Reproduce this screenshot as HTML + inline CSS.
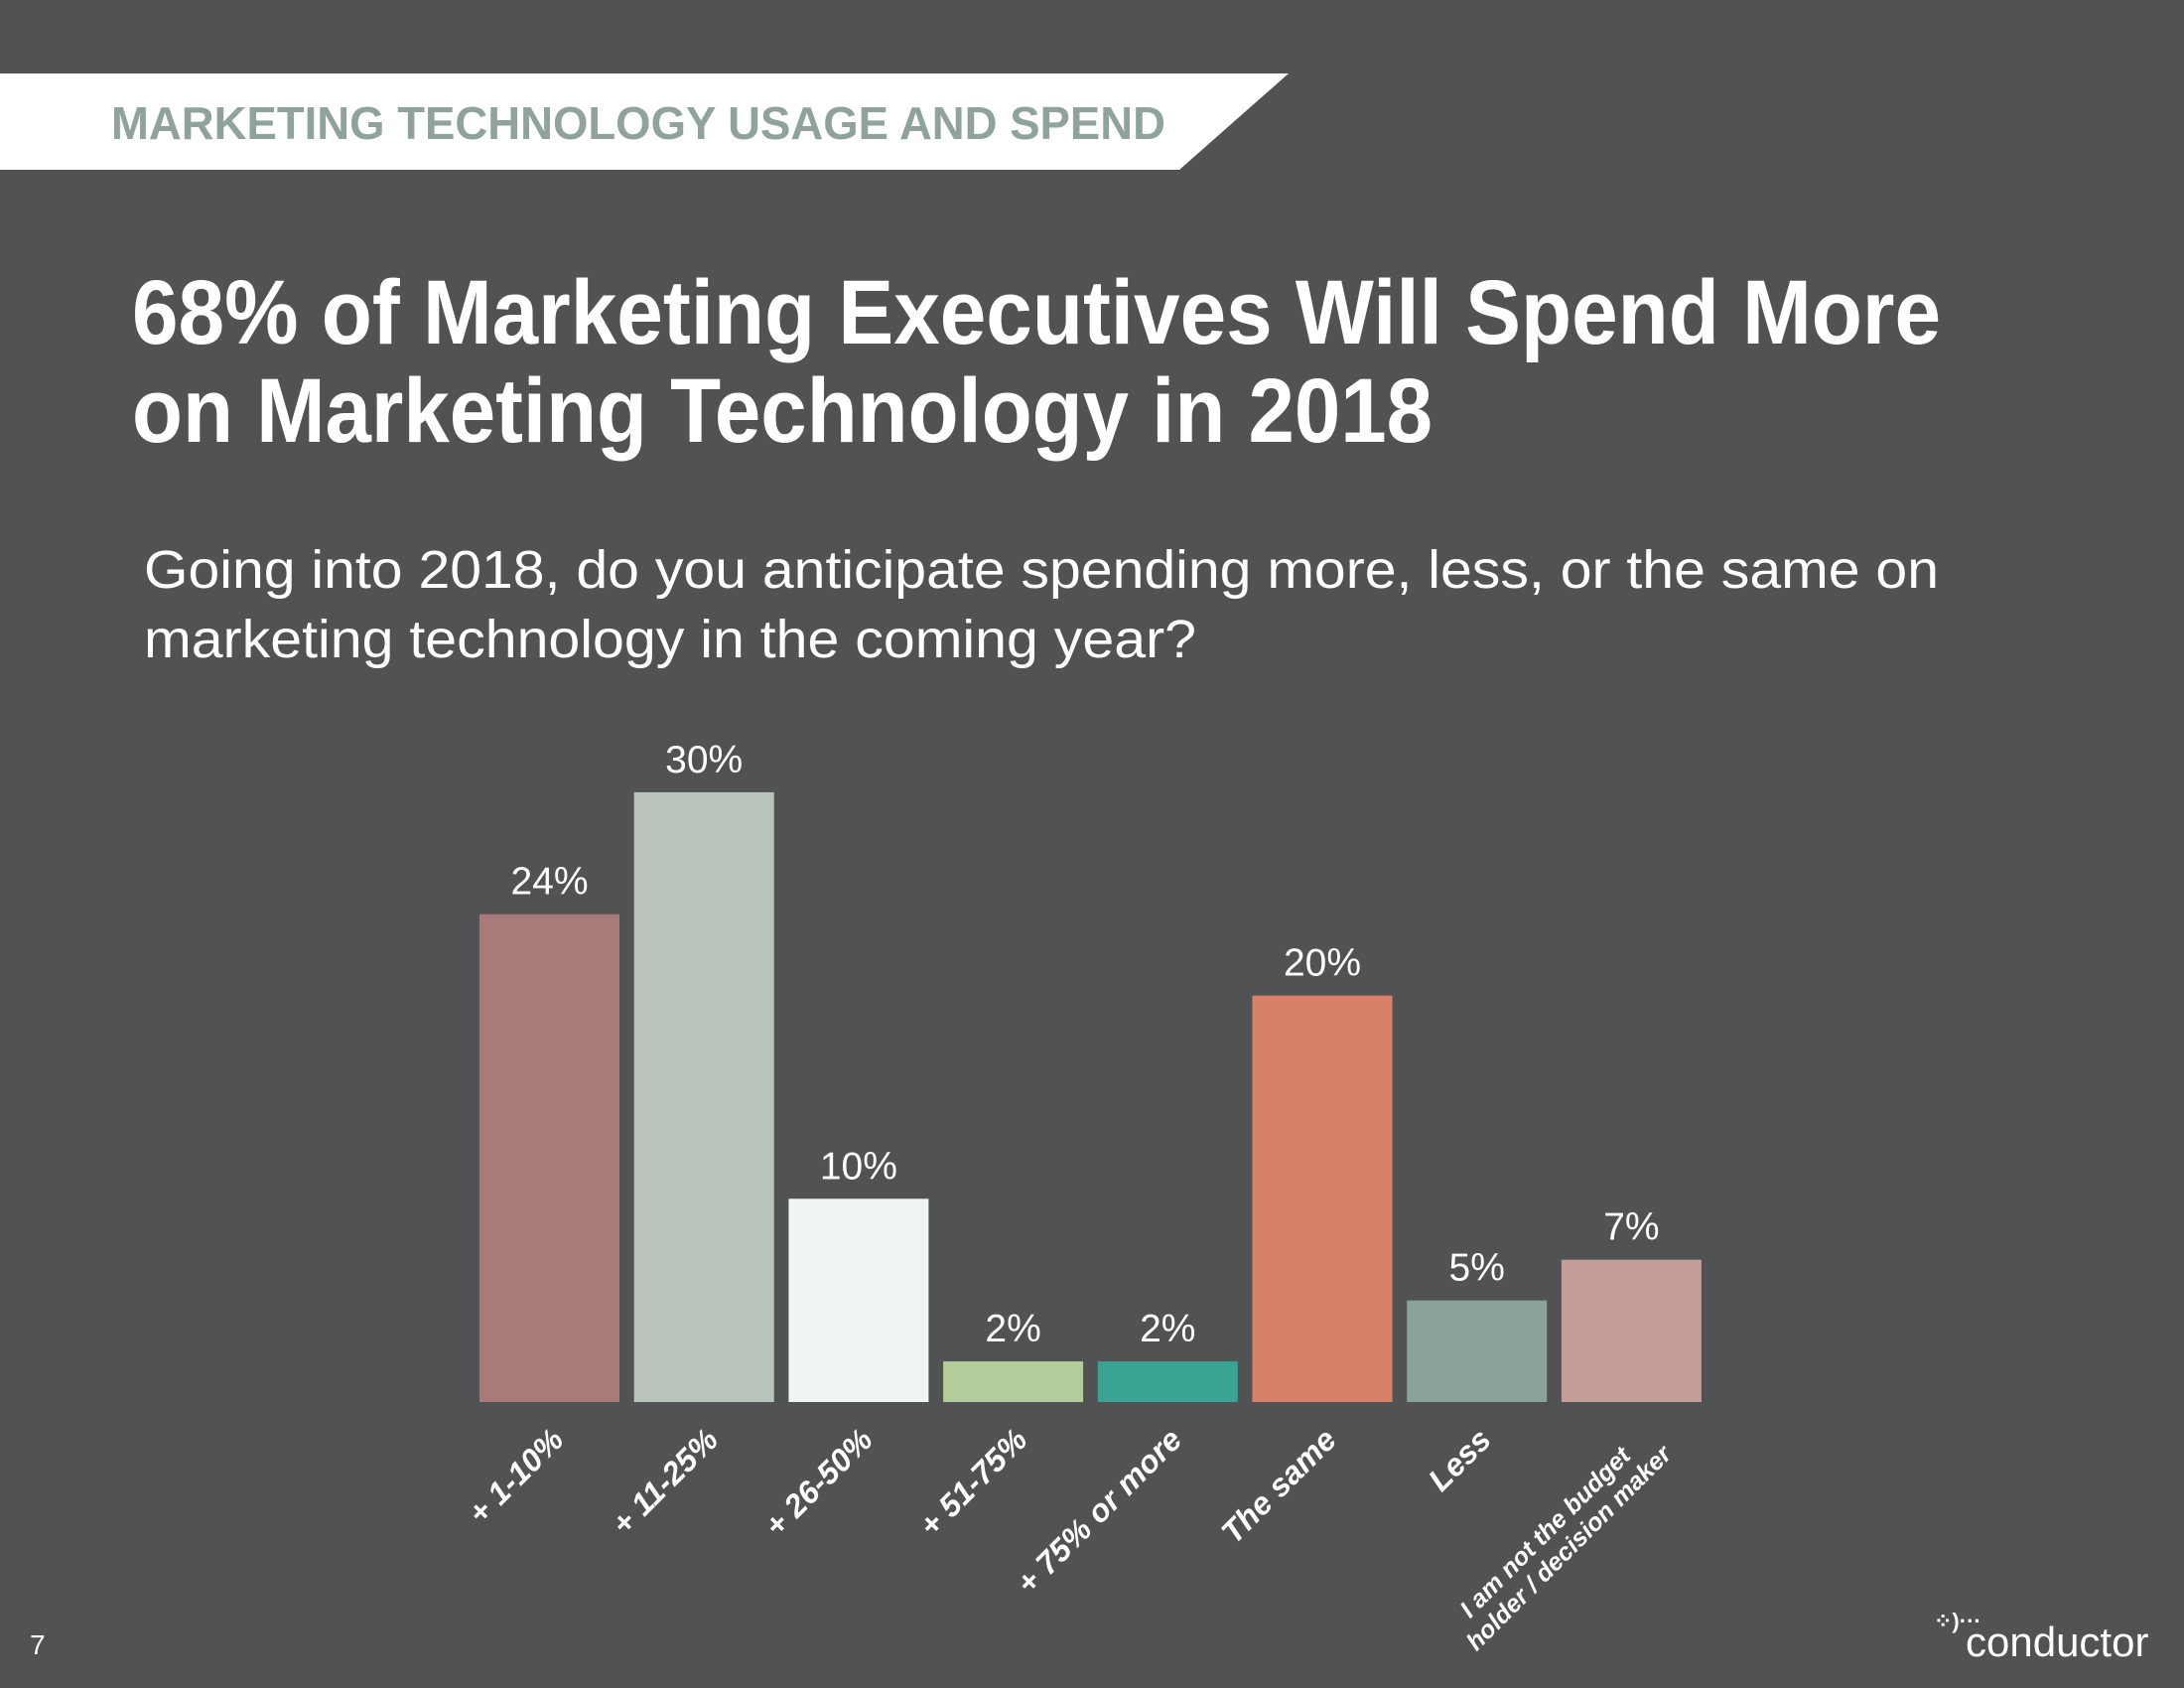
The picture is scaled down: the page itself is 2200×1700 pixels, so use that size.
<!DOCTYPE html>
<html><head><meta charset="utf-8"><style>
html,body{margin:0;padding:0;background:#515254;}
svg{display:block;font-family:"Liberation Sans",sans-serif;}
</style></head><body>
<svg width="2200" height="1700" viewBox="0 0 2200 1700">
<rect x="0" y="0" width="2200" height="1700" fill="#515254"/>
<polygon points="0,74 1298,74 1188,171 0,171" fill="#ffffff"/>
<text x="112" y="140" font-size="46" font-weight="bold" fill="#8fa39b" textLength="1062" lengthAdjust="spacingAndGlyphs">MARKETING TECHNOLOGY USAGE AND SPEND</text>
<text x="133" y="346" font-size="92" font-weight="bold" fill="#ffffff" textLength="1822" lengthAdjust="spacingAndGlyphs">68% of Marketing Executives Will Spend More</text>
<text x="133" y="445" font-size="92" font-weight="bold" fill="#ffffff" textLength="1310" lengthAdjust="spacingAndGlyphs">on Marketing Technology in 2018</text>
<text x="145" y="592" font-size="54" fill="#ffffff" textLength="1808" lengthAdjust="spacingAndGlyphs">Going into 2018, do you anticipate spending more, less, or the same on</text>
<text x="145" y="662" font-size="54" fill="#ffffff" textLength="1060" lengthAdjust="spacingAndGlyphs">marketing technology in the coming year?</text>
<g id="chart"></g>
<text x="30" y="1666" font-size="28" fill="#ffffff">7</text>
<g>
<text x="1948" y="1640" font-size="22" font-weight="bold" fill="#ffffff">⁘)···</text>
<text x="1980" y="1668" font-size="42" fill="#ffffff">conductor</text>
</g>
</svg>
<script>
const categories = ["+ 1-10%", "+ 11-25%", "+ 26-50%", "+ 51-75%", "+ 75% or more", "The same", "Less", "I am not the budget|holder / decision maker"];
const values = [24, 30, 10, 2, 2, 20, 5, 7];
const valueLabels = ["24%", "30%", "10%", "2%", "2%", "20%", "5%", "7%"];
const colors = ["#a87a7a", "#b9c4bc", "#eff6f1", "#b3cc99", "#3aa394", "#d98068", "#8ba19b", "#c59e99"];
const NS = "http://www.w3.org/2000/svg";
const g = document.getElementById("chart");
const baseY = 1412, pxPer = 20.47, x0 = 483, pitch = 155.7, bw = 141;
function xPos(i){ return x0 + i * pitch; }
function yPos(v){ return baseY - v * pxPer; }
values.forEach((v, i) => {
  const r = document.createElementNS(NS, "rect");
  r.setAttribute("x", xPos(i)); r.setAttribute("y", yPos(v));
  r.setAttribute("width", bw); r.setAttribute("height", baseY - yPos(v));
  r.setAttribute("fill", colors[i]);
  
  
  g.appendChild(r);
  const t = document.createElementNS(NS, "text");
  t.setAttribute("x", xPos(i) + bw / 2); t.setAttribute("y", yPos(v) - 20);
  t.setAttribute("text-anchor", "middle"); t.setAttribute("font-size", "39"); t.setAttribute("fill", "#ffffff");
  t.textContent = valueLabels[i];
  
  
  g.appendChild(t);
  const cx = xPos(i) + bw / 2 + 16, cy = 1452;
  const lab = document.createElementNS(NS, "text");
  lab.setAttribute("transform", "translate(" + cx + "," + cy + ") rotate(-45)");
  lab.setAttribute("text-anchor", "end"); lab.setAttribute("font-size", "32");
  lab.setAttribute("font-style", "italic"); lab.setAttribute("font-weight", "bold"); lab.setAttribute("fill", "#ffffff");
  const lines = categories[i].split("|");
  if (lines.length > 1) lab.setAttribute("font-size", "25");
  lines.forEach((ln, k) => {
    const ts = document.createElementNS(NS, "tspan");
    ts.setAttribute("x", lines.length > 1 ? (k === 0 ? -22 : 8) : 0);
    ts.setAttribute("y", k * 28);
    ts.textContent = ln;
    lab.appendChild(ts);
  });
  
  
  g.appendChild(lab);
});
</script>
</body></html>
